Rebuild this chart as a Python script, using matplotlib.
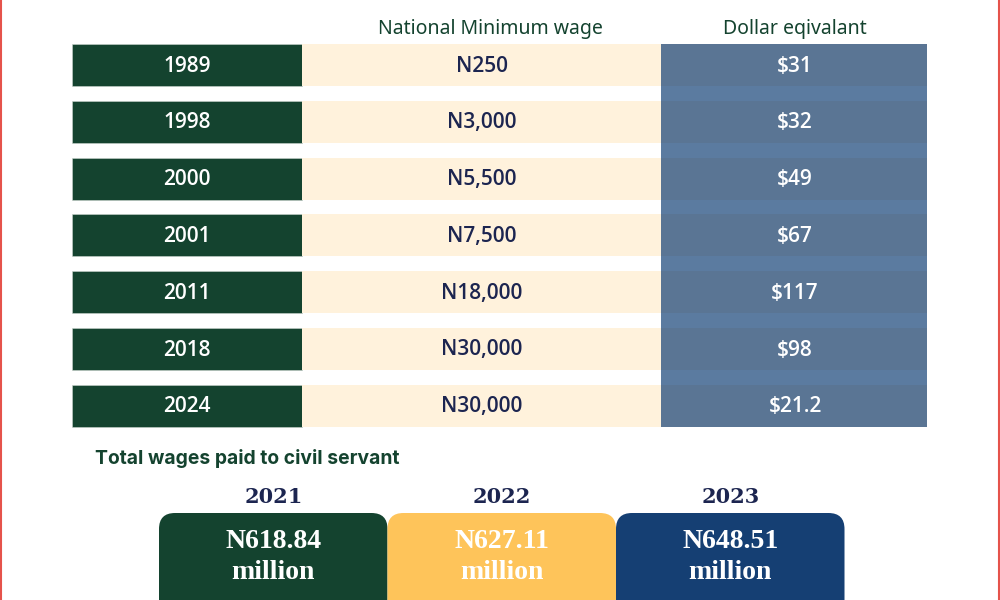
import matplotlib.pyplot as plt
from matplotlib.patches import FancyBboxPatch, Rectangle

# table data
years = ['1989', '1998', '2000', '2001', '2011', '2018', '2024']
min_wage = ['N250', 'N3,000', 'N5,500', 'N7,500', 'N18,000', 'N30,000', 'N30,000']
dollar_eq = ['$31', '$32', '$49', '$67', '$117', '$98', '$21.2']

# total wages boxes
wage_years = ['2021', '2022', '2023']
wage_totals = ['N618.84\nmillion', 'N627.11\nmillion', 'N648.51\nmillion']

green = '#14432f'
cream = '#fff2dc'
blue = '#5a7594'
blue_gap = '#5b7ba0'
navy = '#1c2550'
yellow = '#fec45a'
dark_blue = '#153f73'

fig = plt.figure(figsize=(10, 6), dpi=100)
ax = fig.add_axes([0, 0, 1, 1])
ax.set_xlim(0, 1000)
ax.set_ylim(600, 0)
ax.axis('off')

# red edges
ax.axvline(0.8, color='#e5534b', lw=1.5)
ax.axvline(999.2, color='#e5534b', lw=1.5)

row_top = 44
row_step = 56.8
row_h = 42
ys = [row_top + row_h / 2 + i * row_step for i in range(len(years))]

# blue column background
ax.add_patch(Rectangle((661, row_top), 266, ys[-1] + row_h / 2 - row_top,
                       color=blue_gap, lw=0))

ax.barh(ys, 230, left=72, height=row_h, color=green, edgecolor='#c9d3cc', lw=0.4)
ax.barh(ys, 359, left=302, height=row_h, color=cream, lw=0)
ax.barh(ys, 266, left=661, height=row_h, color=blue, lw=0)

cell_font = dict(family='Open Sans', fontweight='semibold', fontsize=15,
                 ha='center', va='center')
for y, yr, w, d in zip(ys, years, min_wage, dollar_eq):
    ax.text(187, y + 1, yr, color='white', **cell_font)
    ax.text(482, y + 1, w, color=navy, **cell_font)
    ax.text(795, y + 1, d, color='white', **cell_font)

ax.text(490, 29, 'National Minimum wage', family='Noto Sans', fontsize=14,
        color=green, ha='center', va='center')
ax.text(795, 29, 'Dollar eqivalant', family='Noto Sans', fontsize=14,
        color=green, ha='center', va='center')

ax.text(95, 459, 'Total wages paid to civil servant', family='Inter',
        fontweight='bold', fontsize=13.9, color=green, ha='left', va='center')

box_colors = [green, yellow, dark_blue]
box_left = 159
box_w = 228.5
for i, (yr, val, c) in enumerate(zip(wage_years, wage_totals, box_colors)):
    x0 = box_left + i * box_w
    ax.add_patch(FancyBboxPatch((x0, 513), box_w, 120,
                                boxstyle='round,pad=0,rounding_size=16',
                                fc=c, ec='none'))
    cx = x0 + box_w / 2
    ax.text(cx, 497, yr, family='DejaVu Serif', fontweight='bold', fontsize=15,
            color=navy, ha='center', va='center')
    ax.text(cx, 557, val, family='Liberation Serif', fontweight='bold', fontsize=20,
            color='white', ha='center', va='center', linespacing=1.35)

fig.savefig('out.png')
